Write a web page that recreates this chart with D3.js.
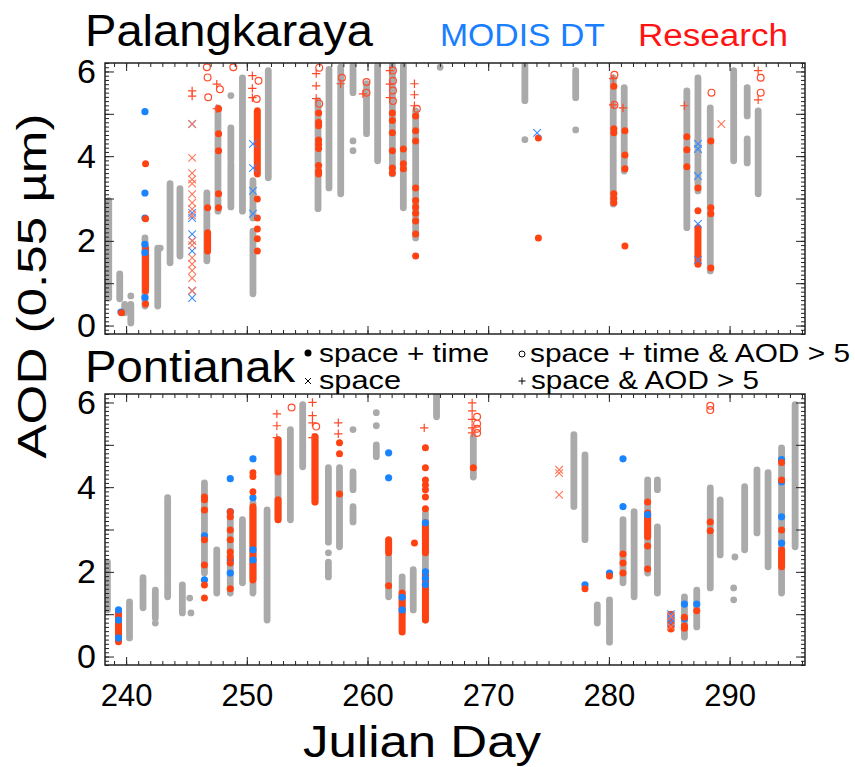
<!DOCTYPE html>
<html>
<head>
<meta charset="utf-8">
<script src="https://cdn.jsdelivr.net/npm/d3@7"></script>
<style>
  body { margin: 0; background: #fff; }
  text { font-family: "Liberation Sans", Arial, Helvetica, sans-serif; fill: #000; }
</style>
</head>
<body>
<svg id="chart" width="855" height="767"></svg>
<script>
// ---- axis ticks ----
const dayMajor = [240, 250, 260, 270, 280, 290];
const aodLabels = [0, 2, 4, 6];

// ---- Palangkaraya ----
// gray = all collocations (runs of overlapping dots: [day, lo, hi])
const palGrayRuns = [
  [238.56, 0.65, 2.95], [239.47, 0.63, 1.22], [239.88, 0.3, 0.5], [240.39, 0.06, 0.5],
  [241.56, 0.46, 2.07], [242.62, 0.46, 1.83], [243.64, 1.48, 3.35], [244.46, 1.64, 3.23],
  [246.69, 1.53, 3.13], [247.61, 2.7, 5.14], [248.68, 2.8, 3.82], [248.68, 3.89, 4.67],
  [249.64, 2.7, 5.85], [250.51, 0.75, 2.23], [250.51, 2.54, 3.42], [251.78, 3.49, 6.02],
  [255.90, 2.76, 5.31], [256.81, 3.25, 6.05], [257.78, 3.11, 6.1], [258.80, 5.5, 6.14],
  [259.92, 4.53, 5.71], [260.84, 3.89, 6.14], [262.06, 3.58, 6.14], [262.97, 2.78, 6.14],
  [263.99, 2.07, 5.07], [273.04, 5.31, 6.14], [277.25, 5.38, 6.02], [280.36, 2.87, 5.85],
  [281.27, 3.65, 5.62], [286.46, 2.31, 5.54], [287.38, 3.18, 5.85], [288.40, 1.29, 5.14],
  [290.34, 3.89, 6.02], [291.46, 4.95, 5.62], [291.46, 3.84, 4.41], [292.37, 3.11, 5.07]
];
const palGrayPts = [
  [240.39, 0.7], [242.83, 1.83], [248.68, 5.43], [258.80, 4.36], [258.80, 4.13],
  [266.02, 6.1], [273.04, 4.39], [277.25, 4.62]
];
const palBlue = [
  [239.57, 0.32], [241.56, 5.05], [241.56, 3.13], [241.56, 2.54], [241.56, 1.92],
  [241.56, 1.72], [241.56, 0.66]
];
const palRedRuns = [
  [241.61, 0.89, 1.83], [246.75, 1.76, 2.19], [250.87, 3.58, 5.07], [287.38, 1.45, 2.31]
];
const palRed = [
  [239.62, 0.3],
  [241.61, 3.82], [241.61, 2.52], [241.61, 0.82], [241.61, 0.51],
  [246.75, 2.78],
  [247.66, 5.12], [247.66, 4.53], [247.66, 4.13], [247.66, 3.11], [247.66, 2.78],
  [250.87, 2.99], [250.87, 2.54], [250.87, 2.28], [250.87, 2.05], [250.87, 1.76],
  [255.95, 5.02], [255.95, 4.8], [255.95, 4.72], [255.95, 4.38], [255.95, 4.28], [255.95, 4.18],
  [255.95, 3.78], [255.95, 3.65], [255.95, 3.58],
  [262.06, 5.02], [262.06, 4.84], [262.06, 4.55], [262.06, 4.13], [262.06, 3.72], [262.06, 3.6],
  [262.97, 4.17], [262.97, 3.82], [262.97, 3.7],
  [263.99, 4.95], [263.99, 4.6], [263.99, 4.36], [263.99, 3.25], [263.99, 2.95], [263.99, 2.8],
  [263.99, 2.65], [263.99, 2.47], [263.99, 2.16], [263.99, 1.64],
  [274.16, 4.43], [274.16, 2.07],
  [280.41, 5.65], [280.41, 4.65], [280.41, 4.55], [280.41, 3.11], [280.41, 3.0], [280.41, 2.9],
  [281.33, 4.6], [281.33, 4.03], [281.33, 3.7], [281.33, 1.88],
  [286.46, 4.46], [286.46, 4.15], [286.46, 3.75],
  [287.38, 3.25], [287.38, 2.71],
  [288.45, 4.36], [288.45, 2.78], [288.45, 2.64], [288.45, 1.36]
];
const palBlueX = [
  [245.47, 4.76], [245.47, 2.66], [245.47, 2.54], [245.47, 2.16], [245.47, 2.0], [245.47, 1.76],
  [245.47, 0.82], [245.47, 0.65], [250.51, 4.29], [250.51, 3.72], [250.51, 3.18], [250.51, 2.64],
  [274.05, 4.55], [287.38, 4.29], [287.38, 4.17], [287.38, 3.53], [287.38, 2.4], [287.38, 1.55]
];
const palRedX = [
  [245.47, 4.76], [245.47, 3.96], [245.47, 3.6], [245.47, 3.45], [245.47, 3.35], [245.47, 3.1],
  [245.47, 2.9], [245.47, 2.75], [245.47, 2.6], [245.47, 2.0], [245.47, 1.9], [245.47, 1.6],
  [245.47, 1.45], [245.47, 1.3], [245.47, 1.12], [245.47, 0.82], [289.32, 4.76]
];
const palRedO = [
  [246.69, 6.1], [246.75, 5.86], [246.80, 5.39], [247.77, 5.58], [248.88, 6.1], [250.97, 5.78],
  [250.82, 5.35], [256.00, 6.09], [256.00, 5.24], [257.88, 5.85], [259.92, 5.75], [259.92, 5.5],
  [262.11, 6.02], [262.11, 5.78], [262.11, 5.55], [262.11, 5.3], [264.09, 5.12],
  [280.46, 5.92], [280.46, 5.21], [288.50, 5.5], [292.58, 5.85], [292.58, 5.5]
];
const palRedPlus = [
  [245.47, 5.54], [245.47, 5.42], [247.51, 5.7], [247.51, 5.12], [250.46, 5.9], [250.46, 5.6],
  [250.46, 5.38], [255.75, 5.95], [255.75, 5.66], [255.75, 5.36], [257.78, 5.71], [259.62, 5.47],
  [261.85, 6.02], [261.85, 5.7], [261.85, 5.38], [263.89, 5.71], [263.89, 5.45], [263.89, 5.19],
  [280.36, 5.83], [280.36, 5.21], [281.17, 5.14], [286.26, 5.19], [292.37, 6.02], [292.37, 5.33]
];

// ---- Pontianak ----
const ponGrayRuns = [
  [238.45, 1.1, 2.23], [240.28, 0.44, 1.29], [241.40, 1.15, 1.86], [242.42, 0.91, 1.57],
  [243.44, 1.81, 3.75], [243.44, 1.41, 1.74], [244.66, 1.03, 1.69], [246.49, 1.97, 4.1],
  [247.51, 1.5, 2.52], [248.63, 1.5, 3.4], [249.64, 1.74, 3.23], [250.51, 1.5, 3.63],
  [251.68, 0.86, 3.46], [252.59, 3.23, 5.12], [253.61, 3.23, 5.36], [254.63, 4.48, 5.95],
  [255.65, 3.65, 5.19], [256.76, 2.7, 4.46], [256.76, 1.88, 2.23], [257.68, 2.59, 4.46],
  [258.80, 3.94, 4.36], [258.80, 3.18, 3.54], [260.73, 4.72, 5.0], [261.75, 1.41, 2.35],
  [262.87, 1.03, 1.88], [263.79, 1.1, 2.05], [264.80, 0.86, 3.39], [265.72, 5.66, 6.23],
  [268.77, 4.24, 5.19], [277.10, 3.54, 5.24], [278.02, 2.76, 4.76], [279.04, 0.79, 1.22],
  [280.05, 0.34, 1.34], [281.17, 1.74, 3.23], [282.09, 1.41, 3.42], [283.21, 1.97, 4.17],
  [284.02, 1.5, 3.06], [284.02, 3.94, 4.17], [286.26, 0.46, 1.41], [287.28, 0.7, 1.57],
  [288.40, 1.62, 3.98], [289.22, 2.4, 3.7], [291.25, 2.52, 4.01], [292.27, 2.92, 4.41],
  [293.19, 2.12, 4.34], [294.31, 1.5, 4.93], [295.43, 2.59, 5.95]
];
const ponGrayPts = [
  [242.42, 0.79], [245.27, 1.38], [245.37, 1.03], [256.76, 2.45], [258.80, 5.36], [260.73, 5.76],
  [260.73, 5.45], [290.44, 2.35], [290.34, 1.62], [290.34, 1.34]
];
const ponBlue = [
  [239.37, 1.1], [239.37, 0.86], [239.37, 0.44], [246.49, 2.85], [246.49, 1.81], [248.63, 4.2],
  [248.63, 3.42], [248.63, 2.28], [248.63, 1.97], [250.51, 4.67], [250.51, 3.75], [250.51, 2.52],
  [250.51, 2.28], [261.75, 4.81], [261.75, 4.22], [262.87, 1.4], [262.87, 1.1], [264.80, 3.16],
  [264.80, 2.0], [264.80, 1.85], [264.80, 1.7], [278.02, 1.69], [280.05, 1.97], [281.17, 4.67],
  [281.17, 3.54], [283.21, 3.35], [286.26, 1.24], [286.26, 0.89], [287.28, 1.24], [294.31, 4.65],
  [294.31, 4.13], [294.31, 3.3], [294.31, 2.68]
];
const ponRedRuns = [
  [239.37, 0.35, 1.05], [250.51, 1.81, 3.54], [252.59, 4.36, 5.12], [252.59, 3.23, 3.7],
  [255.65, 3.65, 5.19], [261.75, 2.45, 2.76], [262.87, 0.58, 1.5], [264.80, 2.45, 3.16],
  [264.80, 0.86, 1.97], [283.21, 2.83, 3.39], [285.14, 0.65, 1.0], [294.31, 2.12, 2.52]
];
const ponRed = [
  [246.49, 3.77], [246.49, 3.7], [246.49, 3.46], [246.49, 2.76], [246.49, 2.16], [246.49, 1.69], [246.49, 1.38],
  [248.63, 3.42], [248.63, 3.3], [248.63, 2.99], [248.63, 2.76], [248.63, 2.47], [248.63, 2.35],
  [248.63, 2.21], [248.63, 1.6],
  [250.51, 4.34], [250.51, 4.25], [250.51, 3.89],
  [257.68, 5.05], [257.68, 4.79], [257.68, 3.84],
  [261.75, 1.67], [263.89, 2.68],
  [264.80, 4.93], [264.80, 4.46], [264.80, 4.17], [264.80, 4.05], [264.80, 3.94], [264.80, 3.77], [264.80, 3.49],
  [268.77, 4.46], [278.02, 1.6], [280.05, 1.9],
  [281.17, 2.42], [281.17, 2.21], [281.17, 1.97],
  [283.21, 3.65], [283.21, 2.61], [283.21, 2.07],
  [286.26, 0.93], [286.26, 0.72], [286.26, 0.67], [287.28, 1.08],
  [288.40, 3.18], [288.40, 2.97],
  [294.31, 4.58], [294.31, 4.17], [294.31, 2.99]
];
const ponBlueX = [[285.14, 1.0], [285.14, 0.9], [285.14, 0.8]];
const ponRedX = [[285.14, 0.95], [285.14, 0.7], [275.88, 4.41], [275.88, 4.33], [275.88, 3.82]];
const ponRedO = [
  [253.71, 5.88], [255.75, 5.43], [269.08, 5.66], [269.08, 5.5], [269.08, 5.38], [269.08, 5.28],
  [288.40, 5.92], [288.40, 5.82]
];
const ponRedPlus = [
  [252.49, 5.73], [252.49, 5.45], [252.49, 5.17], [255.44, 6.0], [255.44, 5.69], [255.44, 5.52],
  [255.44, 5.17], [257.58, 5.52], [257.58, 5.26], [264.70, 5.4], [268.67, 5.99], [268.67, 5.8],
  [268.67, 5.6], [268.67, 5.4], [268.67, 5.28]
];

const GRAY = '#aaaaaa', BLUE = '#1a84ff', RED = '#ff4212', REDMK = '#ff4a2a', REDX = '#ff7658', BLUEX = '#3a8cff';
const PL = 105, PR = 805;
const svg = d3.select('#chart');
const x = d3.scaleLinear().domain([238.25, 296.25]).range([PL, PR]);

function drawPanel(id, top, bottom, d, showX) {
  const y = d3.scaleLinear().domain([-0.2, 6.2]).range([bottom, top]);
  svg.append('clipPath').attr('id', id).append('rect')
    .attr('x', PL).attr('y', top).attr('width', PR - PL).attr('height', bottom - top);
  const g = svg.append('g').attr('clip-path', `url(#${id})`);

  const runs = (data, color, r) => g.append('g').selectAll('line').data(data).join('line')
    .attr('x1', v => x(v[0])).attr('x2', v => x(v[0]))
    .attr('y1', v => y(v[1])).attr('y2', v => y(v[2]))
    .attr('stroke', color).attr('stroke-width', 2 * r).attr('stroke-linecap', 'round');
  const dots = (data, color, r) => g.append('g').selectAll('circle').data(data).join('circle')
    .attr('cx', v => x(v[0])).attr('cy', v => y(v[1])).attr('r', r).attr('fill', color);
  const marks = (data, color, pathStr, w) => g.append('g').selectAll('path').data(data).join('path')
    .attr('transform', v => `translate(${x(v[0])},${y(v[1])})`)
    .attr('d', pathStr).attr('fill', 'none').attr('stroke', color).attr('stroke-width', w);

  runs(d.grayRuns, GRAY, 3.4);
  dots(d.grayPts, GRAY, 3.4);
  runs(d.redRuns, RED, 3.5);
  dots(d.blue, BLUE, 3.6);
  dots(d.red, RED, 3.5);
  const xs = 'M-3.8,-3.8L3.8,3.8M-3.8,3.8L3.8,-3.8';
  marks(d.blueX, BLUEX, xs, 1.1);
  marks(d.redX, REDX, xs, 1.1);
  g.append('g').selectAll('circle').data(d.redO).join('circle')
    .attr('cx', v => x(v[0])).attr('cy', v => y(v[1])).attr('r', 3.4)
    .attr('fill', 'none').attr('stroke', REDMK).attr('stroke-width', 1.2);
  marks(d.redPlus, REDMK, 'M-4.2,0H4.2M0,-4.2V4.2', 1.2);

  // frame and inward ticks
  const ax = svg.append('g').attr('class', 'axes');
  const tk = (sel) => { sel.select('.domain').remove(); sel.selectAll('line').attr('stroke', '#222'); };
  const minorDays = d3.range(239, 297);
  const minorAod = d3.range(-2, 63).map(i => i / 10);
  const majorAod = d3.range(0, 7);
  ax.append('g').attr('transform', `translate(0,${bottom})`)
    .call(d3.axisBottom(x).tickValues(minorDays).tickSize(-4).tickFormat('')).call(tk);
  ax.append('g').attr('transform', `translate(0,${top})`)
    .call(d3.axisTop(x).tickValues(minorDays).tickSize(-4).tickFormat('')).call(tk);
  ax.append('g').attr('transform', `translate(0,${top})`)
    .call(d3.axisTop(x).tickValues(dayMajor).tickSize(-8).tickFormat('')).call(tk);
  const xb = ax.append('g').attr('transform', `translate(0,${bottom})`)
    .call(d3.axisBottom(x).tickValues(dayMajor).tickSize(-8).tickPadding(19)
      .tickFormat(showX ? d3.format('d') : '')).call(tk);
  xb.selectAll('text').attr('font-size', 31).attr('fill', '#000')
    .style('font-family', '"Liberation Sans", Arial, sans-serif');

  ax.append('g').attr('transform', `translate(${PL},0)`)
    .call(d3.axisLeft(y).tickValues(minorAod).tickSize(-4).tickFormat('')).call(tk);
  ax.append('g').attr('transform', `translate(${PR},0)`)
    .call(d3.axisRight(y).tickValues(minorAod).tickSize(-4).tickFormat('')).call(tk);
  ax.append('g').attr('transform', `translate(${PL},0)`)
    .call(d3.axisLeft(y).tickValues(majorAod).tickSize(-9).tickFormat('')).call(tk);
  ax.append('g').attr('transform', `translate(${PR},0)`)
    .call(d3.axisRight(y).tickValues(majorAod).tickSize(-9).tickFormat('')).call(tk);
  const yl = ax.append('g').attr('transform', `translate(${PL},0)`)
    .call(d3.axisLeft(y).tickValues(aodLabels).tickSize(0).tickPadding(9).tickFormat(d3.format('d'))).call(tk);
  yl.selectAll('text').attr('font-size', 34).attr('fill', '#000')
    .style('font-family', '"Liberation Sans", Arial, sans-serif');

  ax.append('rect').attr('x', PL).attr('y', top).attr('width', PR - PL).attr('height', bottom - top)
    .attr('fill', 'none').attr('stroke', '#222').attr('stroke-width', 1.5);
}

drawPanel('clipPal', 63, 334, {
  grayRuns: palGrayRuns, grayPts: palGrayPts, blue: palBlue, redRuns: palRedRuns, red: palRed,
  blueX: palBlueX, redX: palRedX, redO: palRedO, redPlus: palRedPlus
}, false);
drawPanel('clipPon', 394, 665, {
  grayRuns: ponGrayRuns, grayPts: ponGrayPts, blue: ponBlue, redRuns: ponRedRuns, red: ponRed,
  blueX: ponBlueX, redX: ponRedX, redO: ponRedO, redPlus: ponRedPlus
}, true);

// ---- text ----
function label(str, px, py, size, width, color, anchor) {
  const t = svg.append('text').attr('x', px).attr('y', py).attr('font-size', size)
    .attr('text-anchor', anchor || 'start').text(str);
  if (color) t.style('fill', color);
  if (width) t.attr('textLength', width).attr('lengthAdjust', 'spacingAndGlyphs');
  return t;
}
label('Palangkaraya', 85, 46, 44, 288);
label('MODIS DT', 440, 46, 31, 165, '#1a7fff');
label('Research', 638, 46, 31, 150, '#ff1414');
label('Pontianak', 85, 382, 44, 210);
label('space + time', 319, 362, 25, 170);
label('space', 319, 389, 25, 82);
label('space + time & AOD > 5', 530, 362, 25, 320);
label('space & AOD > 5', 531, 389, 25, 228);
svg.append('circle').attr('cx', 308).attr('cy', 353).attr('r', 3.5).attr('fill', '#000');
svg.append('path').attr('transform', 'translate(308,381)').attr('d', 'M-3,-3L3,3M-3,3L3,-3')
  .attr('stroke', '#000').attr('stroke-width', 1);
svg.append('circle').attr('cx', 522).attr('cy', 354).attr('r', 3).attr('fill', 'none')
  .attr('stroke', '#000').attr('stroke-width', 1);
svg.append('path').attr('transform', 'translate(522,381)').attr('d', 'M-3.5,0H3.5M0,-3.5V3.5')
  .attr('stroke', '#000').attr('stroke-width', 1);
label('Julian Day', 422, 757, 44, 238, null, 'middle');
label('AOD (0.55 µm)', 0, 0, 40, 345, null, 'middle')
  .attr('transform', 'translate(46,286) rotate(-90)');
</script>
</body>
</html>
